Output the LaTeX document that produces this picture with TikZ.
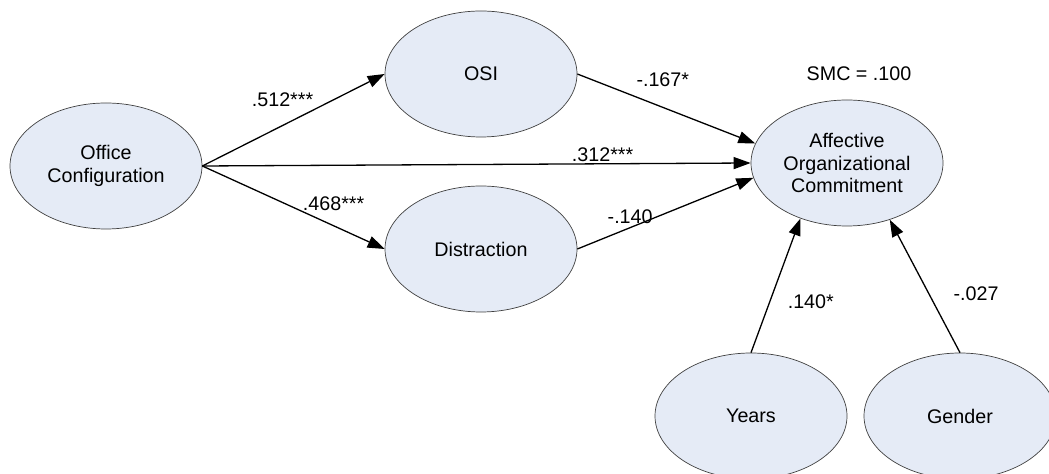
\documentclass[tikz,border=0pt]{standalone}
\usepackage{fontspec}
\setmainfont{Liberation Sans}
\usetikzlibrary{shapes.geometric, arrows.meta, positioning}
\definecolor{latentfill}{RGB}{229,235,246}

\begin{document}
\begin{tikzpicture}[x=0.5pt, y=-0.5pt, on grid,
    latent/.style={ellipse, draw=black!75, line width=0.35pt, fill=latentfill, minimum width=96pt, minimum height=63pt, inner sep=0pt, align=center, font=\fontsize{9.85}{11.3}\selectfont},
    coef/.style={font=\fontsize{9.85}{11.3}\selectfont, inner sep=0pt},
    line/.style={draw, line width=0.65pt, -{Triangle[length=8.5pt, width=6pt]}}
]
    \useasboundingbox (0,0) rectangle (1049,474);

    % Latent variables
    \node [latent] (office) at (106,166) {Office\\Configuration};
    \node [latent, above right=46pt and 187.5pt of office] (osi) {OSI};
    \node [latent, below=87.5pt of osi] (distr) {Distraction};
    \node [latent, right=370.5pt of office, yshift=1.5pt] (commit) {Affective\\Organizational\\Commitment};
    
    % Controls
    \node [latent, below=126.5pt of commit, xshift=-48pt] (years) {Years};
    \node [latent, right=104.5pt of years] (gender) {Gender};
    
    % Explained variance
    \node [coef, above=44.5pt of commit, xshift=6pt] (smc) {SMC = .100};

    % Paths
    \path [line] (office.east) -- (osi.west) node[coef, pos=0.44, yshift=13pt] {.512***};
    \path [line] (office.east) -- (distr.west) node[coef, pos=0.72, yshift=11pt] {.468***};
    \path [line] (office.east) -- (commit.west) node[coef, pos=0.73, yshift=4.5pt] {.312***};
    
    \path [line] (osi.east) -- (commit.168) node[coef, pos=0.48, yshift=14pt] {-.167*};
    \path [line] (distr.east) -- (commit.189) node[coef, pos=0.3, yshift=5.5pt] {-.140};
    
    \path [line] (years.north) -- (commit.230) node[coef, pos=0.38, xshift=20.5pt] {.140*};
    \path [line] (gender.north) -- (commit.307) node[coef, pos=0.44, xshift=23.5pt] {-.027};
\end{tikzpicture}
\end{document}
